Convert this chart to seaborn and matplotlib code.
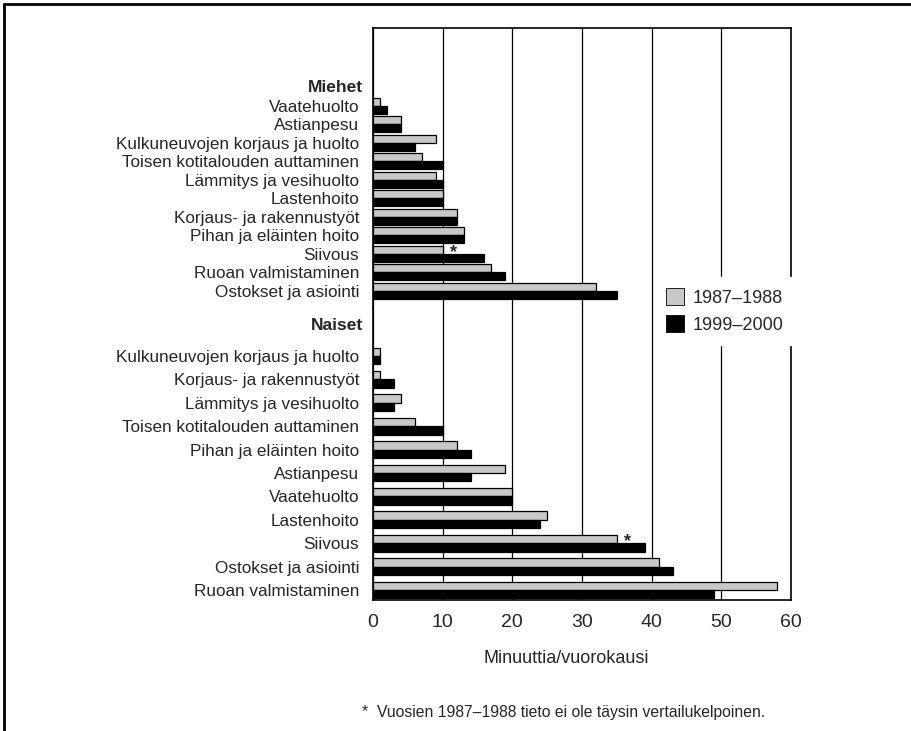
import numpy as np
import pandas as pd
import matplotlib
matplotlib.use('Agg')
import matplotlib.pyplot as plt
import matplotlib.transforms as mtransforms
from matplotlib.lines import Line2D
from matplotlib.patches import Patch
import seaborn as sns

periods = ['1987–1988', '1999–2000']

# Miehet (top to bottom)
men_tasks = ['Vaatehuolto', 'Astianpesu', 'Kulkuneuvojen korjaus ja huolto',
             'Toisen kotitalouden auttaminen', 'Lämmitys ja vesihuolto', 'Lastenhoito',
             'Korjaus- ja rakennustyöt', 'Pihan ja eläinten hoito', 'Siivous',
             'Ruoan valmistaminen', 'Ostokset ja asiointi']
men_8788 = [1, 4, 9, 7, 9, 10, 12, 13, 10, 17, 32]
men_9900 = [2, 4, 6, 10, 10, 10, 12, 13, 16, 19, 35]

# Naiset (top to bottom)
women_tasks = ['Kulkuneuvojen korjaus ja huolto', 'Korjaus- ja rakennustyöt',
               'Lämmitys ja vesihuolto', 'Toisen kotitalouden auttaminen',
               'Pihan ja eläinten hoito', 'Astianpesu', 'Vaatehuolto', 'Lastenhoito',
               'Siivous', 'Ostokset ja asiointi', 'Ruoan valmistaminen']
women_8788 = [1, 1, 4, 6, 12, 19, 20, 25, 35, 41, 58]
women_9900 = [1, 3, 3, 10, 14, 14, 20, 24, 39, 43, 49]

# task whose 1987-1988 figure is not fully comparable
starred = 'Siivous'

xticks = [0, 10, 20, 30, 40, 50, 60]
xlabel = 'Minuuttia/vuorokausi'
footnote = '*  Vuosien 1987–1988 tieto ei ole täysin vertailukelpoinen.'

colors = {'1987–1988': '#c8c8c8', '1999–2000': '#000000'}

sns.set_theme(style='white')
plt.rcParams['font.family'] = ['Liberation Sans', 'DejaVu Sans']


def long_form(tasks, a, b):
    return pd.DataFrame({
        'task': tasks * 2,
        'period': [periods[0]] * len(tasks) + [periods[1]] * len(tasks),
        'value': a + b,
    })


fig = plt.figure(figsize=(9.12, 7.31), dpi=100)
ax1 = fig.add_axes([373 / 912, 1 - 308 / 731, 418 / 912, 280 / 731])
ax2 = fig.add_axes([373 / 912, 1 - 600 / 731, 418 / 912, 292 / 731])

groups = [
    (ax1, long_form(men_tasks, men_8788, men_9900), men_tasks, men_8788, 'Miehet', 0.86, (-4.2, 10.92), -1.0),
    (ax2, long_form(women_tasks, women_8788, women_9900), women_tasks, women_8788, 'Naiset', 0.72, (-2.05, 10.43), -1.32),
]

for ax, df, tasks, old_vals, title, w, ylim, ty in groups:
    sns.barplot(data=df, y='task', x='value', hue='period', palette=colors,
                orient='h', width=w, edgecolor='black', linewidth=0.9,
                legend=False, ax=ax, order=tasks)
    ax.set_xlim(0, 60)
    ax.set_ylim(ylim[1], ylim[0])
    ax.set_xticks(xticks)
    ax.set_ylabel('')
    ax.set_xlabel('')
    ax.grid(axis='x', color='black', linewidth=0.9)
    ax.grid(axis='y', visible=False)
    ax.set_axisbelow(True)
    ax.tick_params(axis='y', length=0, pad=10, labelsize=12.3)
    for s in ax.spines.values():
        s.set_color('black')
        s.set_linewidth(1.2)
    trans = mtransforms.blended_transform_factory(ax.transAxes, ax.transData)
    ax.annotate(title, xy=(0, ty), xycoords=trans, xytext=(-10, 0),
                textcoords='offset pixels', ha='right', va='center',
                fontsize=12.5, fontweight='bold')
    i = tasks.index(starred)
    ax.annotate('*', xy=(old_vals[i], i - w / 4), xytext=(7, -3),
                textcoords='offset pixels', ha='left', va='center',
                fontsize=13, fontweight='bold')

ax1.spines['bottom'].set_visible(False)
ax1.tick_params(axis='x', bottom=False, labelbottom=False)
ax2.spines['top'].set_visible(False)
ax2.tick_params(axis='x', labelsize=14, length=0, pad=10)
ax2.set_xlabel(xlabel, fontsize=13, labelpad=14)
ax2.xaxis.set_label_coords(0.462, -0.17)

handles = [Patch(facecolor=colors[p], edgecolor='black', linewidth=0.6) for p in periods]
leg = fig.legend(handles, periods, loc='center left',
                 bbox_to_anchor=(655 / 912, 1 - 311 / 731), frameon=True,
                 fontsize=13, handlelength=1.0, handleheight=1.1,
                 handletextpad=0.5, labelspacing=0.45, borderpad=0.6,
                 borderaxespad=0)
leg.get_frame().set_facecolor('white')
leg.get_frame().set_edgecolor('white')
leg.get_frame().set_alpha(1)

fig.text(362 / 912, 1 - 712 / 731, footnote, fontsize=11.3, ha='left', va='center')

# outer frame (top and left edges)
fig.add_artist(Line2D([4 / 912, 1], [1 - 4 / 731, 1 - 4 / 731], color='black', linewidth=2))
fig.add_artist(Line2D([4 / 912, 4 / 912], [0, 1 - 4 / 731], color='black', linewidth=2))

fig.savefig('out.png', dpi=100)
